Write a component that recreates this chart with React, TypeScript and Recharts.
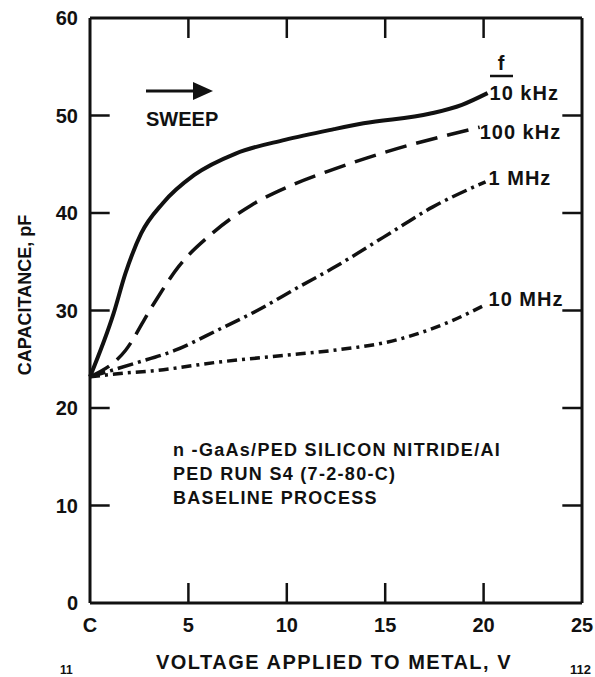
import { LineChart, Line, XAxis, YAxis, ReferenceLine } from "recharts";

// voltage (V) vs capacitance (pF), one pair of arrays per frequency
const volts10k = [0, 1.2, 1.8, 2.6, 3.7, 5.3, 7.4, 9.9, 12.4, 13.9, 17.3, 18.9, 20.2];
const cap10k = [23.2, 29.7, 33.8, 37.9, 41.0, 43.9, 46.1, 47.5, 48.6, 49.2, 50.2, 51.1, 52.3];

const volts100k = [0, 1.8, 3.15, 4.5, 6.2, 8.2, 10.3, 12.4, 15.6, 17.8, 19.8];
const cap100k = [23.2, 25.9, 30.4, 34.5, 37.9, 40.8, 42.9, 44.5, 46.6, 47.8, 48.8];

const volts1M = [0, 2.3, 4.3, 6.5, 8.5, 10.6, 12.3, 14.9, 17.4, 20.1];
const cap1M = [23.2, 24.6, 25.9, 28.0, 30.0, 32.4, 34.3, 37.5, 40.6, 43.2];

const volts10M = [0, 1.9, 3.15, 6.5, 9.9, 12.3, 15.6, 18.1, 20.1];
const cap10M = [23.2, 23.6, 23.8, 24.7, 25.4, 25.9, 27.0, 28.7, 30.6];

const xTicks = [0, 5, 10, 15, 20, 25];
const yTicks = [0, 10, 20, 30, 40, 50, 60];
const innerXTicks = [5, 10, 15, 20];
const innerYTicks = [10, 20, 30, 40, 50];

const noteLines = [
  "n -GaAs/PED SILICON NITRIDE/AI",
  "PED RUN S4 (7-2-80-C)",
  "BASELINE PROCESS",
];

const font = "'Liberation Sans', Arial, sans-serif";
const ink = "#111";

const zip = (v: number[], c: number[]) => v.map((x, i) => ({ v: x, c: c[i] }));

// tick length in data units (about 20px)
const tickV = 1.0;
const tickC = 2.05;

const endLabel = (text: string, count: number, dx: number, dy: number) => (p: any) => {
  if (p.index !== count - 1) return <g key={`d${p.index}`} />;
  return (
    <text
      key={`l${p.index}`}
      x={p.cx + dx}
      y={p.cy + dy + 7}
      fontSize={20}
      fontWeight={700}
      fontFamily={font}
      letterSpacing={1}
      fill={ink}
      stroke="none"
    >
      {text}
    </text>
  );
};

const tickStyle = { fill: ink, fontSize: 20, fontWeight: 700, fontFamily: font };

export default function App() {
  return (
    <div style={{ position: "relative", width: 595, height: 677, background: "#fff" }}>
      <style>{"body{margin:0}"}</style>
      <LineChart
        width={595}
        height={677}
        margin={{ top: 18, right: 13, bottom: 0, left: 0 }}
        style={{ position: "absolute", left: 0, top: 0 }}
      >
        <XAxis
          type="number"
          dataKey="v"
          domain={[0, 25]}
          ticks={xTicks}
          height={74}
          tickSize={0}
          tickMargin={15}
          tickFormatter={(v: number) => (v === 0 ? "C" : String(v))}
          tick={tickStyle}
          axisLine={{ stroke: ink, strokeWidth: 3 }}
          tickLine={false}
        />
        <YAxis
          type="number"
          dataKey="c"
          domain={[0, 60]}
          ticks={yTicks}
          width={90}
          tickSize={0}
          tickMargin={12}
          tick={tickStyle}
          axisLine={{ stroke: ink, strokeWidth: 3 }}
          tickLine={false}
        />
        <ReferenceLine y={60} stroke={ink} strokeWidth={3} />
        <ReferenceLine x={25} stroke={ink} strokeWidth={3} />
        {innerXTicks.map((t) => (
          <ReferenceLine
            key={`b${t}`}
            segment={[{ x: t, y: 0 }, { x: t, y: tickC }]}
            stroke={ink}
            strokeWidth={2.5}
          />
        ))}
        {innerXTicks.map((t) => (
          <ReferenceLine
            key={`t${t}`}
            segment={[{ x: t, y: 60 }, { x: t, y: 60 - tickC }]}
            stroke={ink}
            strokeWidth={2.5}
          />
        ))}
        {innerYTicks.map((t) => (
          <ReferenceLine
            key={`l${t}`}
            segment={[{ x: 0, y: t }, { x: tickV, y: t }]}
            stroke={ink}
            strokeWidth={2.5}
          />
        ))}
        {innerYTicks.map((t) => (
          <ReferenceLine
            key={`r${t}`}
            segment={[{ x: 25, y: t }, { x: 25 - tickV, y: t }]}
            stroke={ink}
            strokeWidth={2.5}
          />
        ))}
        <Line
          data={zip(volts10k, cap10k)}
          dataKey="c"
          type="monotone"
          stroke={ink}
          strokeWidth={4}
          dot={endLabel("10 kHz", volts10k.length, 2, 0)}
          activeDot={false}
          isAnimationActive={false}
        />
        <Line
          data={zip(volts100k, cap100k)}
          dataKey="c"
          type="monotone"
          stroke={ink}
          strokeWidth={3.5}
          strokeDasharray="22 10"
          dot={endLabel("100 kHz", volts100k.length, 0, 5)}
          activeDot={false}
          isAnimationActive={false}
        />
        <Line
          data={zip(volts1M, cap1M)}
          dataKey="c"
          type="monotone"
          stroke={ink}
          strokeWidth={3.5}
          strokeDasharray="16 5 3 5"
          dot={endLabel("1 MHz", volts1M.length, 3, -4)}
          activeDot={false}
          isAnimationActive={false}
        />
        <Line
          data={zip(volts10M, cap10M)}
          dataKey="c"
          type="monotone"
          stroke={ink}
          strokeWidth={3.5}
          strokeDasharray="10 5 3 5"
          dot={endLabel("10 MHz", volts10M.length, 3, -6)}
          activeDot={false}
          isAnimationActive={false}
        />
      </LineChart>
      <svg
        width={595}
        height={677}
        style={{ position: "absolute", left: 0, top: 0, pointerEvents: "none" }}
        fontFamily={font}
        fontWeight={700}
        fill={ink}
      >
        <text
          x={31}
          y={295}
          fontSize={18}
          textAnchor="middle"
          transform="rotate(-90 31 295)"
        >
          CAPACITANCE, pF
        </text>
        <text x={334} y={669} fontSize={20} textAnchor="middle" letterSpacing={1.5}>
          VOLTAGE APPLIED TO METAL, V
        </text>
        <line x1={146} y1={91} x2={197} y2={91} stroke={ink} strokeWidth={3} />
        <polygon points="193,82 213,91 193,100" fill={ink} />
        <text x={146} y={126} fontSize={20}>
          SWEEP
        </text>
        <text x={501} y={70} fontSize={20} textAnchor="middle">
          f
        </text>
        <line x1={490} y1={76} x2={513} y2={76} stroke={ink} strokeWidth={2.5} />
        {noteLines.map((s, i) => (
          <text key={s} x={173} y={456 + i * 24} fontSize={18} letterSpacing={1.3}>
            {s}
          </text>
        ))}
        <text x={60} y={674} fontSize={12}>
          11
        </text>
        <text x={570} y={674} fontSize={13}>
          112
        </text>
      </svg>
    </div>
  );
}
